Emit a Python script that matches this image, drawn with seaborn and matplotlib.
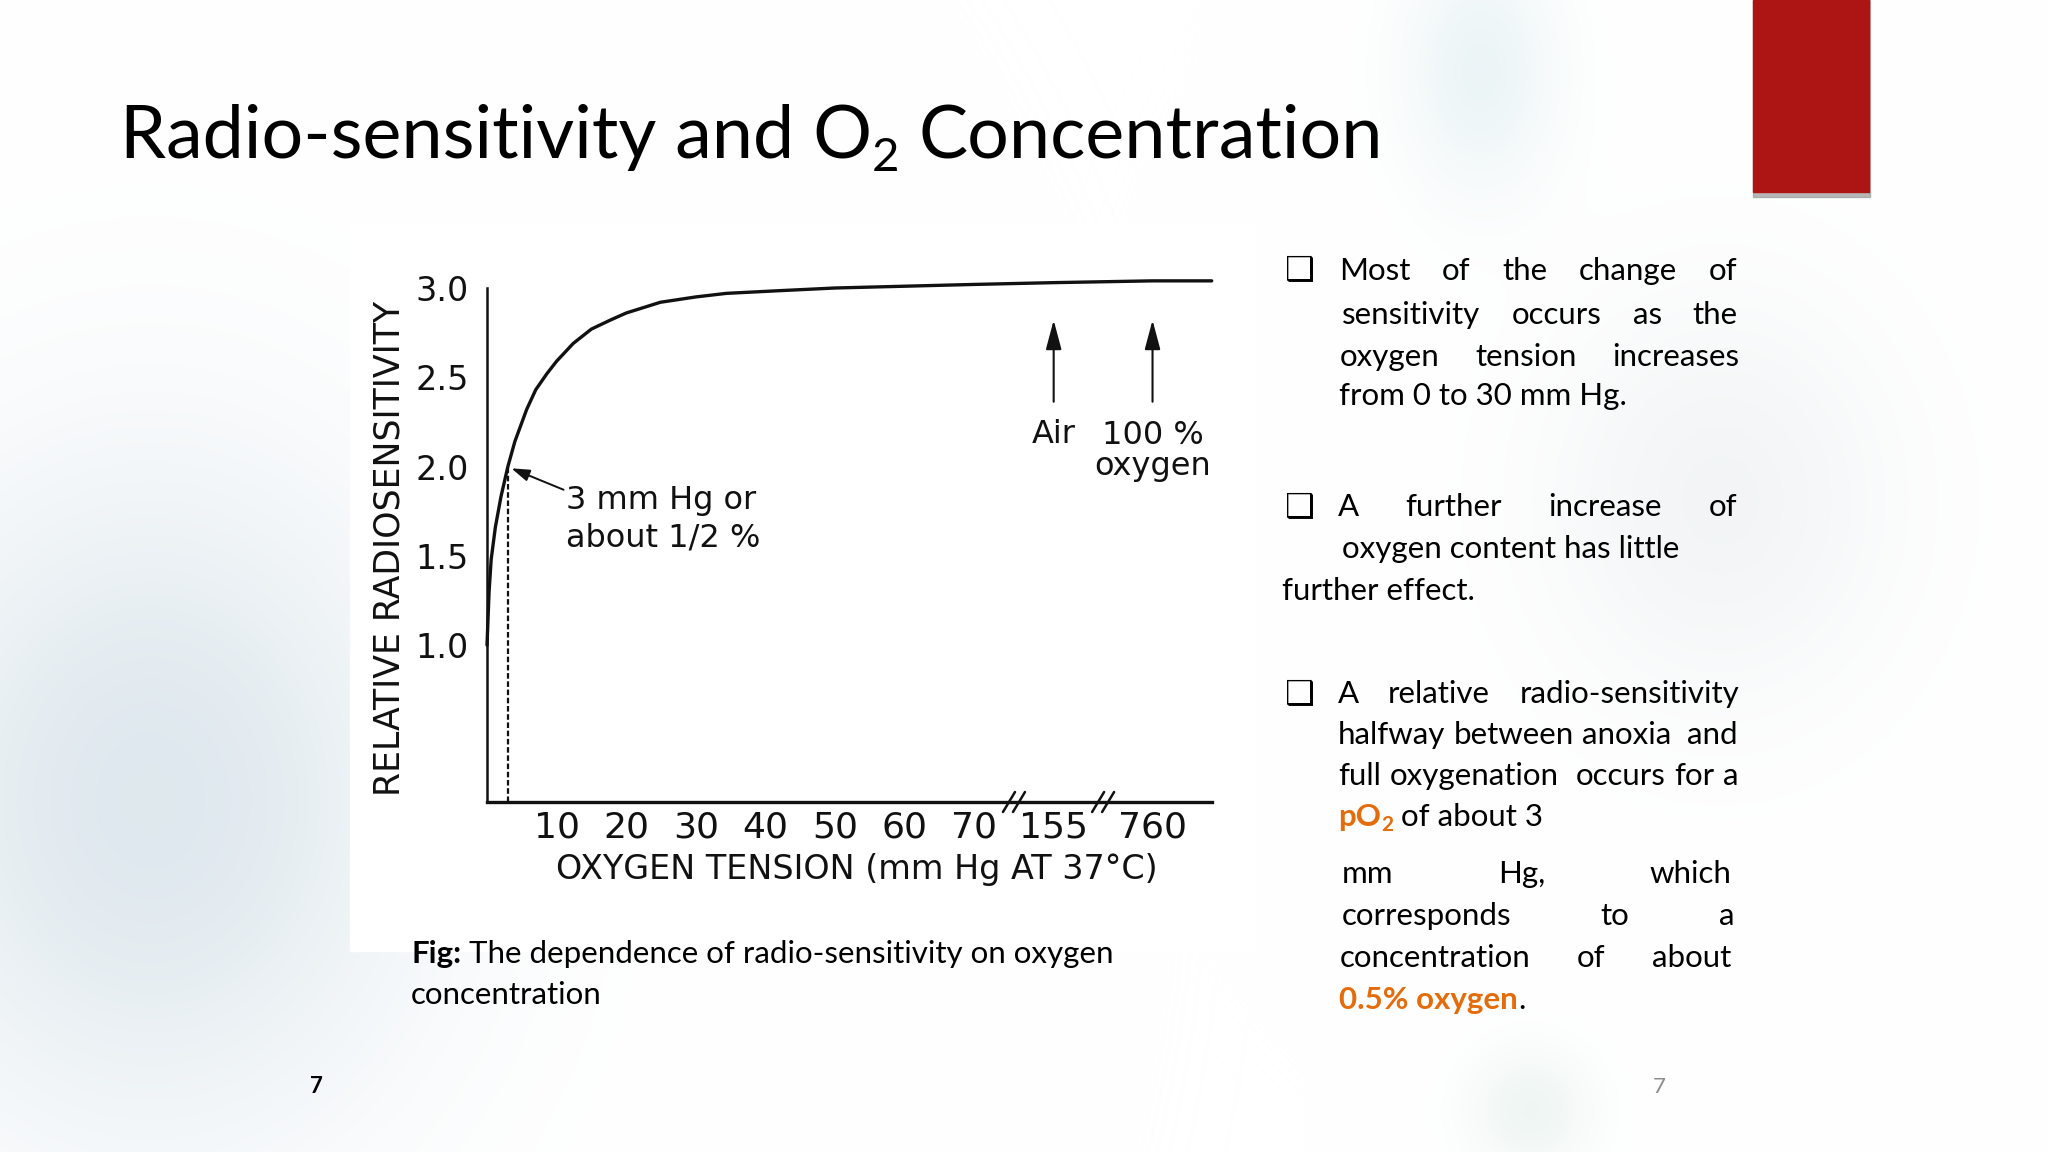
import numpy as np
import pandas as pd
import matplotlib
matplotlib.use("Agg")
import matplotlib.pyplot as plt
import seaborn as sns
from matplotlib.patches import Rectangle
from matplotlib.lines import Line2D
from matplotlib.transforms import IdentityTransform
from matplotlib.font_manager import FontProperties

W, H = 2048, 1152

# curve (mm Hg -> relative radiosensitivity)
tension = [0, 0.3, 0.6, 1.2, 2, 3, 4, 5.7, 7, 8.6, 10, 12.4, 15, 17.7, 20, 24.9,
           30, 34.4, 42, 50, 60, 70, 155, 760, 1000]
sensitivity = [1.0, 1.3, 1.48, 1.66, 1.83, 2.0, 2.14, 2.32, 2.43, 2.52, 2.59, 2.69,
               2.77, 2.82, 2.86, 2.92, 2.95, 2.97, 2.985, 3.0, 3.01, 3.02, 3.03, 3.04, 3.04]
x_ticks = [10, 20, 30, 40, 50, 60, 70, 155, 760]
y_ticks = [1.0, 1.5, 2.0, 2.5, 3.0]
arrow_marks = [155, 760]   # air, 100 % oxygen
half_point = 3             # 3 mm Hg

# broken x axis: real mm Hg -> drawn position
brk_real = [0, 70, 155, 760, 1000]
brk_pos = [0, 70, 81.4, 95.6, 104.1]


def fwd(v):
    return np.interp(v, brk_real, brk_pos)


def inv(p):
    return np.interp(p, brk_pos, brk_real)


sns.set_theme(style="white")
plt.rcParams['font.family'] = ['Lato', 'DejaVu Sans']

fig = plt.figure(figsize=(W / 100, H / 100), dpi=100)
fig.patch.set_facecolor('white')

# ---- slide background (pixel coords) ----
bg = fig.add_axes([0, 0, 1, 1], zorder=-5)
yy, xx = np.mgrid[0:H, 0:W].astype(np.float32)
img = np.ones((H, W, 3), dtype=np.float32)
blobs = [
    (150, 800, 270, 330, (0.83, 0.88, 0.91), 0.75),
    (1480, 70, 75, 120, (0.85, 0.92, 0.93), 0.5),
    (1720, 500, 170, 200, (0.89, 0.91, 0.92), 0.45),
    (1530, 1110, 60, 60, (0.84, 0.91, 0.89), 0.4),
]
for cx, cy, sx, sy, rgb, a in blobs:
    w = a * np.exp(-(((xx - cx) / sx) ** 2 + ((yy - cy) / sy) ** 2))
    for k in range(3):
        img[..., k] = img[..., k] * (1 - w) + rgb[k] * w
bg.imshow(img, extent=(0, W, H, 0), aspect='auto', interpolation='bilinear')
bg.set_xlim(0, W)
bg.set_ylim(H, 0)
bg.axis('off')

# white picture of the figure
bg.add_patch(Rectangle((350, 225), 905, 726, color='white', zorder=2))
# red block with shadow
bg.add_patch(Rectangle((1753, 0), 117, 197, color='#9a9a9a', alpha=0.7, zorder=3))
bg.add_patch(Rectangle((1753, 0), 116, 192, color='#ad1515', zorder=4))

renderer = fig.canvas.get_renderer()


def width_of(t):
    return t.get_window_extent(renderer).width


def space_w(style):
    a = bg.text(0, 0, "x x", **style)
    b = bg.text(0, 0, "xx", **style)
    w = width_of(a) - width_of(b)
    a.remove()
    b.remove()
    return w


def put_runs(x, y, runs):
    for s, style, dy in runs:
        if s == " ":
            x += space_w(style)
            continue
        t = bg.text(x, y + dy, s, ha='left', va='baseline', zorder=5, **style)
        x += width_of(t)
    return x


def put_justified(line, x0, x1, y, style):
    # a double space in the source line gets a double gap
    tokens = line.split(' ')
    words, spaces = [], []
    for tok in tokens:
        if tok:
            words.append(tok)
            spaces.append(0)
        if spaces:
            spaces[-1] += 1
    spaces = spaces[:-1]
    items = [bg.text(x0, y, w, ha='left', va='baseline', zorder=5, **style) for w in words]
    widths = [width_of(t) for t in items]
    unit = (x1 - x0 - sum(widths)) / sum(spaces)
    x = x0
    for i, (t, w) in enumerate(zip(items, widths)):
        t.set_x(x)
        if i < len(spaces):
            x += w + unit * spaces[i]


orange = '#e46c0a'
body = dict(fontsize=22.5, color='black', family='Lato')
body_b = dict(fontsize=22.5, color='black', family='Lato', fontweight='bold')
orange_b = dict(fontsize=22.5, color=orange, family='Lato', fontweight='bold')
orange_sub = dict(fontsize=15, color=orange, family='Lato', fontweight='bold')
title = dict(fontsize=53, color='black', family='Lato')
title_sub = dict(fontsize=34, color='black', family='Lato')

# title
put_runs(120, 158, [("Radio-sensitivity and O", title, 0), ("2", title_sub, 13),
                    (" ", title, 0), ("Concentration", title, 0)])

# bullets
for by in [280, 517, 704]:
    bg.text(1285, by, "\u2751", ha='left', va='baseline', fontsize=24,
            family='DejaVu Sans', color='black', zorder=5)

put_justified("Most of the change of", 1339, 1737, 280, body)
put_justified("sensitivity occurs as the", 1342, 1738, 324, body)
put_justified("oxygen tension increases", 1340, 1739, 366, body)
put_runs(1339, 405, [("from 0 to 30 mm Hg.", body, 0)])

put_justified("A further increase of", 1338, 1737, 516, body)
put_runs(1342, 558, [("oxygen content has little", body, 0)])
put_runs(1282, 600, [("further effect.", body, 0)])

put_justified("A relative radio-sensitivity", 1338, 1739, 703, body)
put_justified("halfway between anoxia  and", 1338, 1738, 744, body)
put_justified("full oxygenation  occurs for a", 1338, 1738, 785, body)
put_runs(1338, 826, [("pO", orange_b, 0), ("2", orange_sub, 5), (" ", body, 0),
                     ("of about 3", body, 0)])
put_justified("mm Hg, which", 1342, 1731, 883, body)
put_justified("corresponds to a", 1342, 1734, 925, body)
put_justified("concentration of about", 1340, 1731, 967, body)
put_runs(1339, 1009, [("0.5% oxygen", orange_b, 0), (".", body, 0)])

# caption
put_runs(411, 963, [("Fig:", body_b, 0), (" ", body, 0),
                    ("The dependence of radio-sensitivity on oxygen", body, 0)])
put_runs(411, 1004, [("concentration", body, 0)])

# page numbers
bg.text(310, 1093, "7", ha='left', va='baseline', fontsize=16, fontweight='bold',
        family='Lato', color='black', zorder=5)
bg.text(1653, 1093, "7", ha='left', va='baseline', fontsize=16,
        family='Lato', color='#8c8c8c', zorder=5)

# ---- the chart ----
fp_tick_x = FontProperties(family='DejaVu Sans', size=26)
fp_tick_y = FontProperties(family='DejaVu Sans', size=24)
fp_xlab = FontProperties(family='DejaVu Sans', size=24)
fp_ylab = FontProperties(family='DejaVu Sans', size=25)
fp_ann = FontProperties(family='DejaVu Sans', size=23)
ink = '#111111'

ax = fig.add_axes([487 / W, 1 - 802 / H, (1211.7 - 487) / W, (802 - 288) / H])
ax.set_facecolor('none')
ax.set_xscale('function', functions=(fwd, inv))

df = pd.DataFrame({'tension': tension, 'sensitivity': sensitivity})
sns.lineplot(data=df, x='tension', y='sensitivity', ax=ax, color=ink, lw=2.4,
             clip_on=False, errorbar=None)

ax.set_xlim(0, 1000)
ax.set_ylim(0.121, 3.0)
ax.set_xticks(x_ticks, [str(v) for v in x_ticks])
ax.set_yticks(y_ticks, [f"{v:.1f}" for v in y_ticks])
ax.tick_params(axis='x', direction='in', length=13.5, width=1.5, pad=6, colors=ink)
ax.tick_params(axis='y', direction='in', length=10, width=1.5, pad=13, colors=ink)
for lab in ax.get_xticklabels():
    lab.set_fontproperties(fp_tick_x)
for lab in ax.get_yticklabels():
    lab.set_fontproperties(fp_tick_y)
ax.grid(False)
for s in ['top', 'right']:
    ax.spines[s].set_visible(False)
ax.spines['left'].set_linewidth(1.8)
ax.spines['bottom'].set_linewidth(2.4)
ax.spines['left'].set_color(ink)
ax.spines['bottom'].set_color(ink)

ax.set_xlabel("OXYGEN TENSION (mm Hg AT 37\u00b0C)", fontproperties=fp_xlab, color=ink)
ax.set_ylabel("RELATIVE RADIOSENSITIVITY", fontproperties=fp_ylab, color=ink)
ax.xaxis.set_label_coords(0.51, -0.132)
ax.xaxis.label.set_va('center')
ax.yaxis.set_label_coords(-0.135, 0.494)
ax.yaxis.label.set_va('center')

# dashed drop line at 3 mm Hg
y_half = np.interp(half_point, tension, sensitivity)
ax.plot([half_point, half_point], [ax.get_ylim()[0], y_half], color=ink, lw=1.6,
        dashes=(2.5, 1.2), clip_on=False)
ax.annotate("", xy=(3.5, 1.99), xytext=(11.0, 1.87),
            arrowprops=dict(arrowstyle='-|>,head_length=0.55,head_width=0.18',
                            mutation_scale=20, color=ink, lw=1.4, shrinkA=0, shrinkB=0))
# va='baseline' on a two-line text sits on the last line's baseline
ax.text(11.4, 1.55, "3 mm Hg or\nabout 1/2 %", ha='left', va='baseline',
        fontproperties=fp_ann, color=ink, linespacing=1.3)

for m in arrow_marks:
    ax.annotate("", xy=(m, 2.82), xytext=(m, 2.363),
                arrowprops=dict(arrowstyle='-|>,head_length=0.6,head_width=0.16',
                                mutation_scale=30, color=ink, lw=1.5, shrinkA=0, shrinkB=0))
ax.text(arrow_marks[0], 2.13, "Air", ha='center', va='baseline', fontproperties=fp_ann, color=ink)
ax.text(arrow_marks[1], 1.955, "100 %\noxygen", ha='center', va='baseline',
        fontproperties=fp_ann, color=ink, linespacing=0.98)

# axis break marks "//" between the last linear tick and 155, and between 155 and 760
y0 = ax.get_ylim()[0]
for a, b in [(70, 155), (155, 760)]:
    mid = inv((fwd(a) + fwd(b)) / 2)
    xd, yd = ax.transData.transform((mid, y0))
    for off in (-5, 5):
        fig.add_artist(Line2D([xd + off - 6, xd + off + 6], [yd - 10, yd + 10],
                              transform=IdentityTransform(), color=ink, lw=1.8))

fig.savefig("out.png", dpi=100, facecolor='white')
